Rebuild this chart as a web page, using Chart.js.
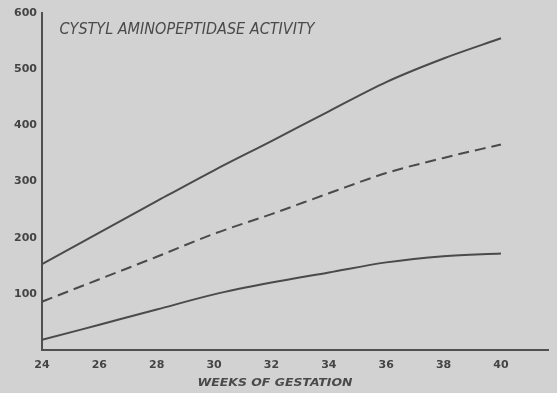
<!DOCTYPE html>
<html>
<head>
<meta charset="utf-8">
<style>
  html, body { margin: 0; padding: 0; background: #d2d2d2; }
  #wrap { width: 557px; height: 393px; }
</style>
<script src="https://cdn.jsdelivr.net/npm/chart.js@4/dist/chart.umd.min.js"></script>
</head>
<body>
<div id="wrap"><canvas id="c" width="557" height="393"></canvas></div>
<script>
// Weeks of gestation (x) and enzyme activity curves (y)
const weeks = [24, 26, 28, 30, 32, 34, 36, 38, 40];
const upperCurve = [153, 209, 265, 320, 372, 425, 477, 519, 555];
const meanCurve  = [86, 126, 166, 207, 242, 279, 315, 342, 366];
const lowerCurve = [18, 45, 72, 99, 120, 138, 156, 167, 172];
const xTicks = [24, 26, 28, 30, 32, 34, 36, 38, 40];
const yTicks = [100, 200, 300, 400, 500, 600];
const chartTitle = 'CYSTYL AMINOPEPTIDASE ACTIVITY';
const xTitle = 'WEEKS OF GESTATION';

const ink = '#4a4a4a';
const toPoints = vals => weeks.map((w, i) => ({ x: w, y: vals[i] }));

// Draws text squeezed/stretched horizontally to a given width
function drawFitted(ctx, text, font, cx, cy, width) {
  ctx.save();
  ctx.font = font;
  const w = ctx.measureText(text).width;
  ctx.translate(cx, cy);
  ctx.scale(width / w, 1);
  ctx.textAlign = 'center';
  ctx.textBaseline = 'middle';
  ctx.fillStyle = ink;
  ctx.fillText(text, 0, 0);
  ctx.restore();
}

const labelsPlugin = {
  id: 'labels',
  afterDraw(chart) {
    const ctx = chart.ctx;
    const a = chart.chartArea;
    drawFitted(ctx, chartTitle, 'italic 15px "DejaVu Sans Condensed", "DejaVu Sans", sans-serif',
      a.left + 145, a.top + 17, 255);
    drawFitted(ctx, xTitle, 'italic bold 11px "DejaVu Sans", sans-serif',
      a.left + 233, 383, 155);
  }
};

const lineStyle = {
  borderColor: ink,
  borderWidth: 2,
  pointRadius: 0,
  fill: false,
  cubicInterpolationMode: 'monotone'
};

new Chart(document.getElementById('c'), {
  type: 'line',
  data: {
    datasets: [
      Object.assign({ label: 'upper', data: toPoints(upperCurve) }, lineStyle),
      Object.assign({ label: 'mean', data: toPoints(meanCurve), borderDash: [11, 6] }, lineStyle),
      Object.assign({ label: 'lower', data: toPoints(lowerCurve) }, lineStyle)
    ]
  },
  options: {
    responsive: false,
    animation: false,
    layout: { padding: { top: 13, right: 9, left: 0, bottom: 0 } },
    plugins: { legend: { display: false }, tooltip: { enabled: false } },
    scales: {
      x: {
        type: 'linear',
        min: 24,
        max: 41.64,
        grid: { display: false, drawTicks: false },
        border: { display: true, color: '#505050', width: 2 },
        afterBuildTicks: s => { s.ticks = xTicks.map(v => ({ value: v })); },
        afterFit: s => { s.height = 43; },
        ticks: {
          padding: 9,
          color: '#444',
          font: { family: '"DejaVu Sans", sans-serif', size: 11, weight: 'bold' },
          maxRotation: 0,
          autoSkip: false
        }
      },
      y: {
        min: 0,
        max: 600,
        grid: { display: false, drawTicks: false },
        border: { display: true, color: '#505050', width: 2 },
        afterBuildTicks: s => { s.ticks = yTicks.map(v => ({ value: v })); },
        afterFit: s => { s.width = 42; },
        ticks: {
          padding: 5,
          color: '#444',
          font: { family: '"DejaVu Sans", sans-serif', size: 11, weight: 'bold' }
        }
      }
    }
  },
  plugins: [labelsPlugin]
});
</script>
</body>
</html>
